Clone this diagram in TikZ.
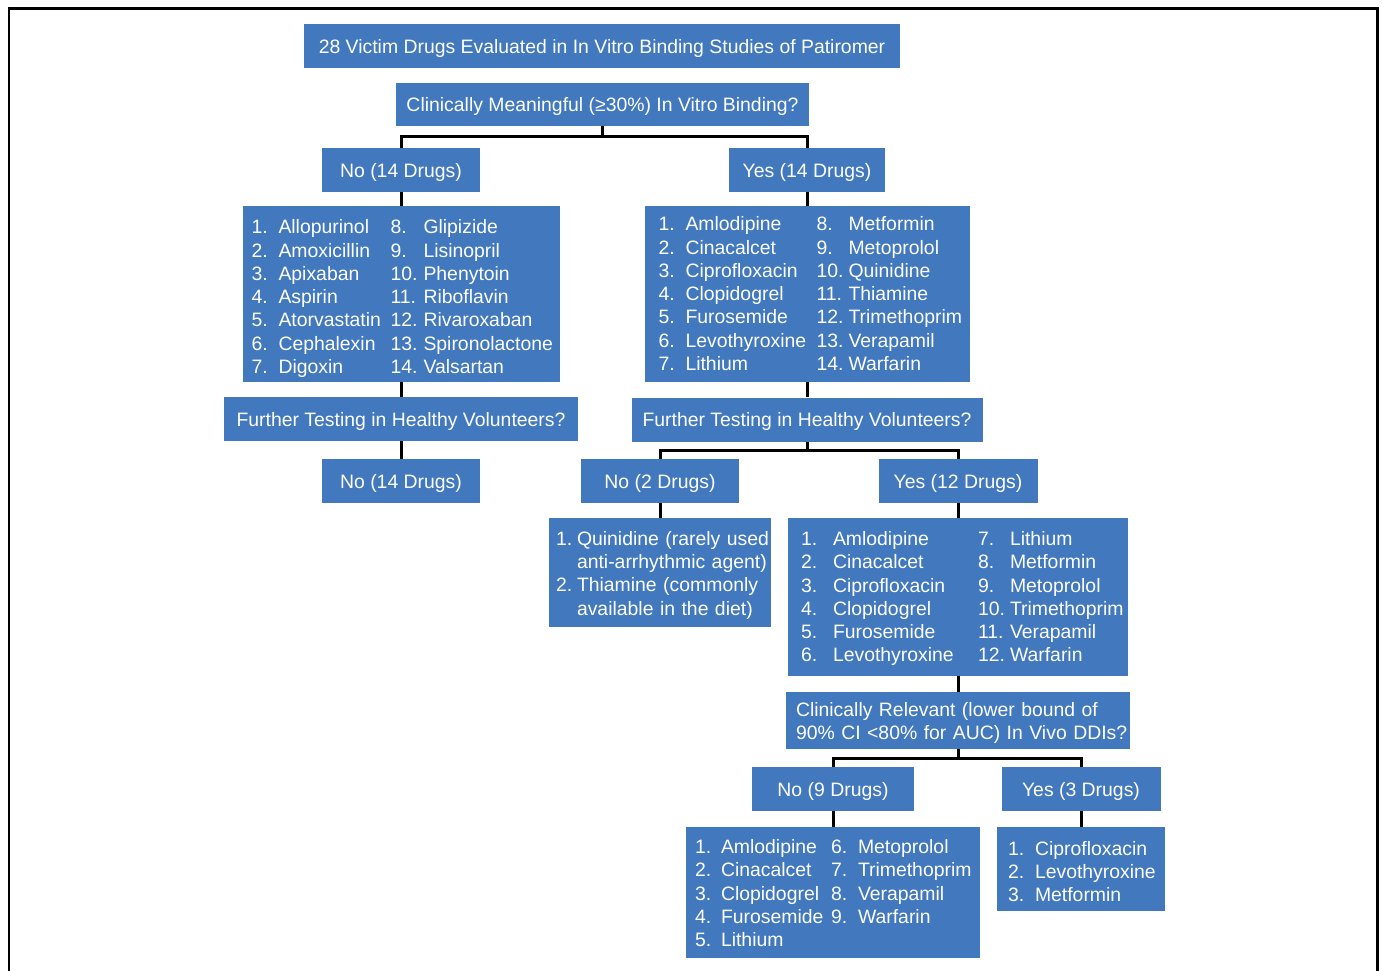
\documentclass[tikz,border=0pt]{standalone}
\usepackage{fontspec}
\setmainfont{Liberation Sans}
\usepackage{array}
\usepackage{xcolor}
\usepackage{tikz}
\usetikzlibrary{positioning,calc}
\definecolor{boxblue}{HTML}{4178BE}
\tikzset{
  box/.style={rectangle, fill=boxblue, text=white, inner sep=0pt, font=\fontsize{19.4}{23.3}\selectfont},
  answer/.style={box, minimum width=158pt, minimum height=44pt, text height=14.5pt, text depth=0pt},
  question/.style={box, minimum height=44pt, text height=14.5pt, text depth=0pt},
  listbox/.style={box, align=left},
  link/.style={draw=black, line width=3pt},
  outerframe/.style={draw=black, line width=2.4pt}
}

\begin{document}
\begin{tikzpicture}[x=1pt, y=-1pt]
  \useasboundingbox (0,0) rectangle (1382,971);
  \draw[outerframe] (9,985) -- (9,8.5) -- (1377.5,8.5) -- (1377.5,985);

  % top of the tree
  \node[question, minimum width=596pt] (title) at (602,46.5) {28 Victim Drugs Evaluated in In Vitro Binding Studies of Patiromer};
  \node[question, minimum width=413pt, minimum height=43pt] (binding) at (602.5,104.5) {Clinically Meaningful (≥30\%) In Vitro Binding?};
  \coordinate (split1) at (602.5,137);
  \node[answer] (bindno) at (401,170) {No (14 Drugs)};
  \node[answer, minimum width=156pt] (bindyes) at (807,170) {Yes (14 Drugs)};

  % no binding
  \node[listbox, minimum width=317pt, minimum height=176pt, inner xsep=9pt, text width=299pt] (nolist) at (401,294) {%
    \raisebox{-5pt}[\height][\depth]{\begin{tabular}{@{}w{l}{27pt}@{}w{l}{112pt}@{}w{l}{33pt}@{}l@{}}
      1. & Allopurinol & 8. & Glipizide\\
      2. & Amoxicillin & 9. & Lisinopril\\
      3. & Apixaban & 10. & Phenytoin\\
      4. & Aspirin & 11. & Riboflavin\\
      5. & Atorvastatin & 12. & Rivaroxaban\\
      6. & Cephalexin & 13. & Spironolactone\\
      7. & Digoxin & 14. & Valsartan
    \end{tabular}}};
  \node[question, minimum width=354pt] (hvnoq) at (401,419) {Further Testing in Healthy Volunteers?};
  \node[answer] (nonone) at (401,481) {No (14 Drugs)};

  % binding
  \node[listbox, minimum width=325pt, minimum height=176pt, inner xsep=14pt, text width=297pt] (yeslist) at (807,294) {%
    \raisebox{-2pt}[\height][\depth]{\begin{tabular}{@{}w{l}{27pt}@{}w{l}{131pt}@{}w{l}{32pt}@{}l@{}}
      1. & Amlodipine & 8. & Metformin\\
      2. & Cinacalcet & 9. & Metoprolol\\
      3. & Ciprofloxacin & 10. & Quinidine\\
      4. & Clopidogrel & 11. & Thiamine\\
      5. & Furosemide & 12. & Trimethoprim\\
      6. & Levothyroxine & 13. & Verapamil\\
      7. & Lithium & 14. & Warfarin
    \end{tabular}}};
  \node[question, minimum width=351pt] (hvyesq) at (807,419.5) {Further Testing in Healthy Volunteers?};
  \coordinate (split2) at (807,450);
  \node[answer] (hvno) at (660,481) {No (2 Drugs)};
  \node[answer, minimum width=159pt] (hvyes) at (958,481) {Yes (12 Drugs)};
  \node[listbox, minimum width=222pt, minimum height=109pt, inner xsep=7pt, text width=208pt] (rarelist) at (660,572.5) {%
    \raisebox{-3pt}[\height][\depth]{\begin{tabular}{@{}w{l}{21pt}@{}l@{}}
      1. & Quinidine (rarely used\\
         & anti-arrhythmic agent)\\
      2. & Thiamine (commonly\\
         & available in the diet)
    \end{tabular}}};
  \node[listbox, minimum width=340pt, minimum height=158pt, inner xsep=13pt, text width=314pt] (testlist) at (958,597) {%
    \raisebox{-2pt}[\height][\depth]{\begin{tabular}{@{}w{l}{32pt}@{}w{l}{145pt}@{}w{l}{32pt}@{}l@{}}
      1. & Amlodipine & 7. & Lithium\\
      2. & Cinacalcet & 8. & Metformin\\
      3. & Ciprofloxacin & 9. & Metoprolol\\
      4. & Clopidogrel & 10. & Trimethoprim\\
      5. & Furosemide & 11. & Verapamil\\
      6. & Levothyroxine & 12. & Warfarin
    \end{tabular}}};

  % in vivo DDIs
  \node[listbox, minimum width=344pt, minimum height=57pt, inner xsep=10pt, text width=324pt] (ddiq) at (958,720.5) {%
    \raisebox{-3pt}[\height][\depth]{\begin{tabular}{@{}l@{}}
      Clinically Relevant (lower bound of\\
      90\% CI <80\% for AUC) In Vivo DDIs?
    \end{tabular}}};
  \coordinate (split3) at (958,758);
  \node[answer, minimum width=162pt] (ddino) at (833,789) {No (9 Drugs)};
  \node[answer, minimum width=159pt] (ddiyes) at (1081,789) {Yes (3 Drugs)};
  \node[listbox, minimum width=294pt, minimum height=131pt, inner xsep=9pt, text width=276pt] (nodilist) at (833,892.5) {%
    \raisebox{-3pt}[\height][\depth]{\begin{tabular}{@{}w{l}{26pt}@{}w{l}{110pt}@{}w{l}{27pt}@{}l@{}}
      1. & Amlodipine & 6. & Metoprolol\\
      2. & Cinacalcet & 7. & Trimethoprim\\
      3. & Clopidogrel & 8. & Verapamil\\
      4. & Furosemide & 9. & Warfarin\\
      5. & Lithium & &
    \end{tabular}}};
  \node[listbox, minimum width=168pt, minimum height=84pt, inner xsep=11pt, text width=146pt] (ddilist) at (1081,869) {%
    \raisebox{-5pt}[\height][\depth]{\begin{tabular}{@{}w{l}{27pt}@{}l@{}}
      1. & Ciprofloxacin\\
      2. & Levothyroxine\\
      3. & Metformin
    \end{tabular}}};

  % connectors
  \draw[link] (binding) -- (split1);
  \draw[link] (bindno) |- (split1) -| (bindyes);
  \draw[link] (bindno) -- (nolist);
  \draw[link] (nolist) -- (hvnoq);
  \draw[link] (hvnoq) -- (nonone);
  \draw[link] (bindyes) -- (yeslist);
  \draw[link] (yeslist) -- (hvyesq);
  \draw[link] (hvyesq) -- (split2);
  \draw[link] (hvno) |- (split2) -| (hvyes);
  \draw[link] (hvno) -- (rarelist);
  \draw[link] (hvyes) -- (testlist);
  \draw[link] (testlist) -- (ddiq);
  \draw[link] (ddiq) -- (split3);
  \draw[link] (ddino) |- (split3) -| (ddiyes);
  \draw[link] (ddino) -- (nodilist);
  \draw[link] (ddiyes) -- (ddilist);
\end{tikzpicture}
\end{document}
